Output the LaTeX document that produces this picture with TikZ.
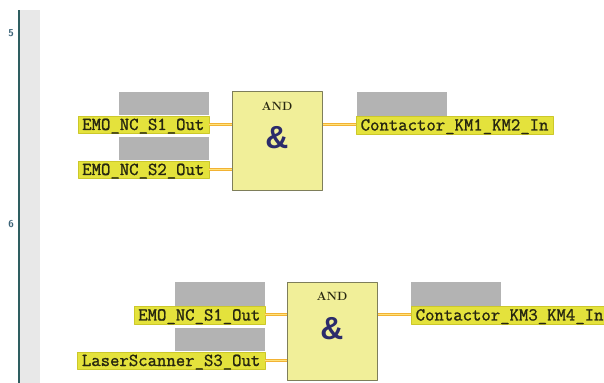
\documentclass[tikz,border=0pt]{standalone}
\usepackage{fontspec}
\newfontfamily\ampfont{Liberation Sans}
\newfontfamily\tagfont{Latin Modern Mono}[FakeBold=1.2]
\usepackage{tikz}

\definecolor{railcol}{HTML}{2E5E60}
\definecolor{railgray}{HTML}{E8E8E8}
\definecolor{rungtext}{HTML}{3C6478}
\definecolor{slotgray}{HTML}{B3B3B3}
\definecolor{tagfill}{HTML}{E4E23C}
\definecolor{tagline}{HTML}{CCC82A}
\definecolor{tagtext}{HTML}{262610}
\definecolor{gatefill}{HTML}{F1EF99}
\definecolor{gateline}{HTML}{7E7E5A}
\definecolor{ampcol}{HTML}{2B2B6B}
\definecolor{wireout}{HTML}{F2B233}
\definecolor{wirein}{HTML}{FFE27A}

\begin{document}
\begin{tikzpicture}[>=latex,line join=bevel,
  tag/.style={draw=tagline,fill=tagfill,line width=0.4bp,inner xsep=4.5bp,inner ysep=0bp,
    minimum height=17.5bp,text height=11bp,text depth=0bp,
    font=\fontsize{18.3}{18}\selectfont\tagfont,text=tagtext},
  slot/.style={fill=slotgray,minimum width=90bp,minimum height=23.5bp,inner sep=0pt},
  andbox/.style={draw=gateline,fill=gatefill,line width=1bp,minimum width=90bp,minimum height=99bp,inner sep=0pt},
  gatetxt/.style={inner sep=0pt,font=\fontsize{12}{12}\selectfont\bfseries,text=tagtext},
  ampsym/.style={inner sep=0pt,font=\fontsize{32}{32}\selectfont\ampfont\bfseries,text=ampcol},
  rung/.style={inner sep=0pt,font=\fontsize{10}{10}\selectfont\sffamily\bfseries,text=rungtext},
  wire/.style={draw=wireout,double=wirein,double distance=1bp,line width=1bp},
]
\useasboundingbox (0bp,0bp) rectangle (604bp,383bp);
%% rail
\fill [railgray] (20bp,0bp) rectangle (40bp,373bp);
\draw [railcol,line width=2.2bp] (19bp,0bp) -- (19bp,373bp);
\node (n5) at (11bp,350bp) [rung] {5};
\node (n6) at (11bp,159bp) [rung] {6};
%% network 5
\node (and1) at (277bp,241.5bp) [andbox] {};
\node (and1t) at (277bp,277bp) [gatetxt] {AND};
\node (and1s) at (277bp,245bp) [ampsym] {\&};
\node (in1a) at (209bp,258.5bp) [tag,anchor=east] {EMO\_NC\_S1\_Out};
\node (in1b) at (209bp,213.5bp) [tag,anchor=east] {EMO\_NC\_S2\_Out};
\node (out1) at (356bp,258bp) [tag,anchor=west] {Contactor\_KM1\_KM2\_In};
\node (p1a) at (in1a.north east) [slot,anchor=south east] {};
\node (p1b) at (in1b.north east) [slot,anchor=south east] {};
\node (q1) at ([xshift=1bp]out1.north west) [slot,anchor=south west] {};
\draw [wire] (in1a.east) -- (and1.west |- in1a.east);
\draw [wire] (in1b.east) -- (and1.west |- in1b.east);
\draw [wire] (and1.east |- out1.west) -- (out1.west);
%% network 6
\node (and2) at (332bp,51bp) [andbox,minimum height=98bp] {};
\node (and2t) at (332bp,87bp) [gatetxt] {AND};
\node (and2s) at (332bp,54bp) [ampsym] {\&};
\node (in2a) at (265bp,68bp) [tag,anchor=east] {EMO\_NC\_S1\_Out};
\node (in2b) at (265bp,22.5bp) [tag,anchor=east] {LaserScanner\_S3\_Out};
\node (out2) at (411bp,68bp) [tag,anchor=west] {Contactor\_KM3\_KM4\_In};
\node (p2a) at (in2a.north east) [slot,anchor=south east] {};
\node (p2b) at (in2b.north east) [slot,anchor=south east] {};
\node (q2) at (out2.north west) [slot,anchor=south west] {};
\draw [wire] (in2a.east) -- (and2.west |- in2a.east);
\draw [wire] (in2b.east) -- (and2.west |- in2b.east);
\draw [wire] (and2.east |- out2.west) -- (out2.west);
%
\end{tikzpicture}
\end{document}
